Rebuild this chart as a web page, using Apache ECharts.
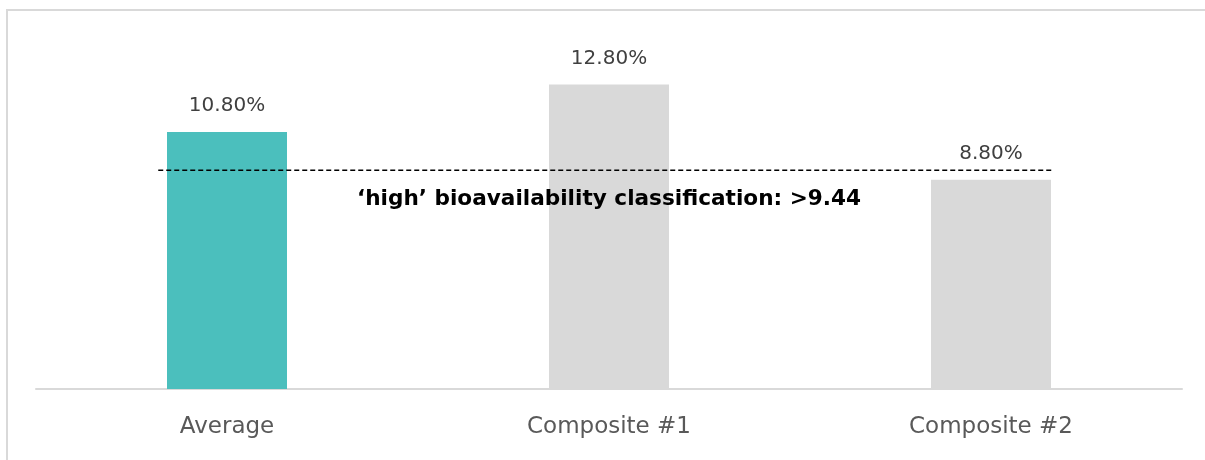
<!DOCTYPE html>
<html>
<head>
<meta charset="utf-8">
<script src="https://cdn.jsdelivr.net/npm/echarts@6/dist/echarts.min.js"></script>
<style>
  html, body { margin: 0; padding: 0; background: #fff; }
  #chart { width: 1205px; height: 460px; }
</style>
</head>
<body>
<div id="chart"></div>
<script>
// categories and values
const categories = ['Average', 'Composite #1', 'Composite #2'];
const values = [10.8, 12.8, 8.8];
const barColors = ['#4bbfbd', '#d9d9d9', '#d9d9d9'];
// dashed threshold line (drawn at ~9.2 in the picture), spanning from left of bar 1 to right of bar 3
const thresholdValue = 9.2;
const thresholdSpan = [-0.18, 2.16];
const thresholdText = '\u2018high\u2019 bioavailability classification: >9.44';

const FONT = '"DejaVu Sans", sans-serif';

const chart = echarts.init(document.getElementById('chart'));

chart.setOption({
  animation: false,
  grid: { left: 36, right: 23, top: 56, bottom: 71 },
  xAxis: [
    {
      type: 'category',
      data: categories,
      axisLine: { lineStyle: { color: '#d9d9d9', width: 2 } },
      axisTick: { show: false },
      axisLabel: { color: '#595959', fontSize: 23, fontFamily: FONT, margin: 27 }
    },
    {
      type: 'value',
      min: -0.5,
      max: 2.5,
      show: false
    }
  ],
  yAxis: {
    type: 'value',
    min: 0,
    max: 14,
    show: false,
    splitLine: { show: false }
  },
  series: [
    {
      type: 'bar',
      xAxisIndex: 0,
      barWidth: 120,
      data: values.map(function (v, i) {
        return { value: v, itemStyle: { color: barColors[i] } };
      }),
      label: {
        show: true,
        position: 'top',
        distance: 16,
        color: '#404040',
        fontSize: 20,
        fontFamily: FONT,
        formatter: function (p) { return p.value.toFixed(2) + '%'; }
      }
    },
    {
      type: 'line',
      xAxisIndex: 1,
      symbol: 'none',
      z: 5,
      lineStyle: { color: '#000', width: 1.5, type: [5, 3] },
      data: thresholdSpan.map(function (x) { return [x, thresholdValue]; })
    }
  ],
  graphic: [
    {
      type: 'rect',
      silent: true,
      shape: { x: 7, y: 10, width: 1400, height: 600 },
      style: { fill: 'none', stroke: '#d9d9d9', lineWidth: 2 }
    },
    {
      type: 'text',
      x: 609,
      y: 199,
      z: 10,
      style: {
        text: thresholdText,
        fill: '#000',
        font: 'bold 21.6px ' + FONT,
        align: 'center',
        verticalAlign: 'middle'
      }
    }
  ]
});
</script>
</body>
</html>
